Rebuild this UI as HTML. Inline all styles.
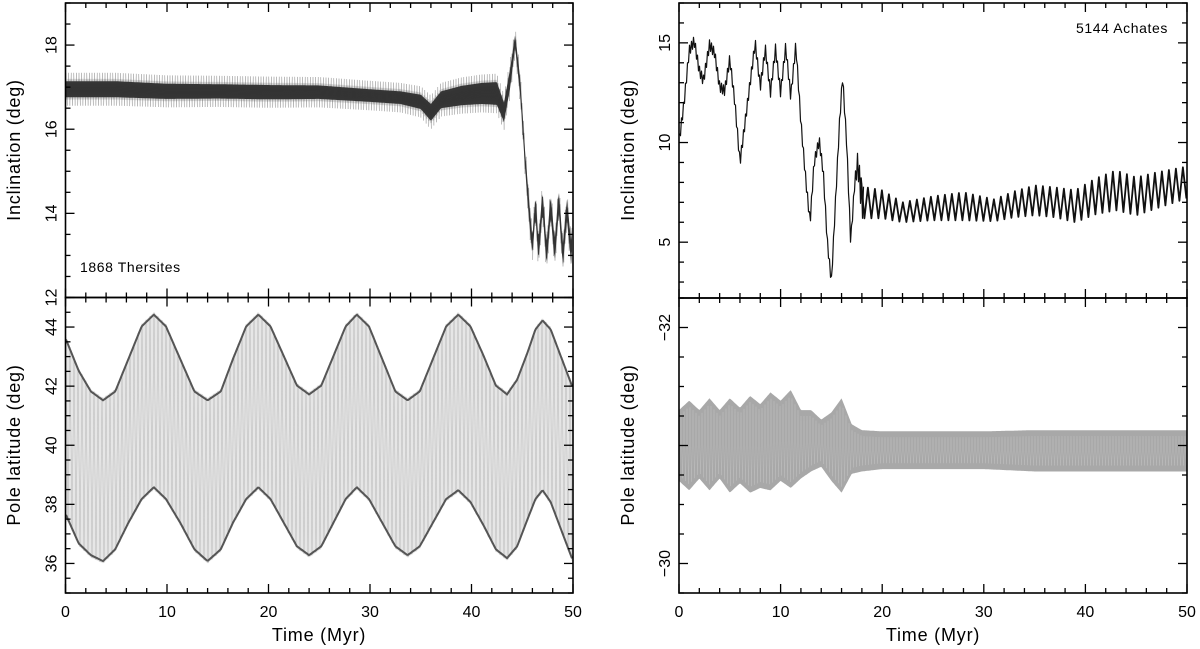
<!DOCTYPE html>
<html><head><meta charset="utf-8"><style>
html,body{margin:0;padding:0;background:#fff}
svg{display:block;font-family:"Liberation Sans",sans-serif}
</style></head><body>
<svg id="chart" width="1200" height="649" viewBox="0 0 1200 649" xmlns="http://www.w3.org/2000/svg"></svg>
<script>
// ---- data ----
const ltTimes=[0,5,10,15,20,25,30,33,35,36,37,39,41,42.5,43.2,43.8,44.3,44.8,45.3,45.7,46.0,46.3,46.6,47.0,47.4,47.8,48.2,48.6,49.0,49.4,49.8,50];
const ltCenter=[16.95,16.95,16.9,16.9,16.88,16.88,16.8,16.75,16.65,16.4,16.7,16.8,16.85,16.85,16.4,17.2,18.1,17.0,15.2,14.0,13.2,14.2,13.1,14.3,13.0,14.2,13.1,14.3,13.0,14.1,13.1,13.6];
const ltHalf=[0.24,0.24,0.23,0.22,0.22,0.21,0.2,0.2,0.22,0.25,0.25,0.28,0.3,0.32,0.28,0.28,0.2,0.25,0.25,0.3,0.25,0.3,0.3,0.3,0.3,0.3,0.3,0.3,0.3,0.3,0.3,0.3];
const lbTimes=[0,1.3,2.5,3.7,4.9,6.2,7.5,8.7,9.9,11.3,12.7,14,15.3,16.5,17.8,19,20.2,21.5,22.8,24,25.2,26.4,27.6,28.7,29.9,31.2,32.5,33.7,34.9,36.2,37.5,38.7,39.9,41.2,42.4,43.5,44.5,45.5,46.3,47,47.8,48.9,50];
const lbUpper=[43.7,42.6,41.9,41.6,41.9,43.0,44.1,44.5,44.1,43.0,41.9,41.6,41.9,43.0,44.1,44.5,44.1,43.1,42.1,41.8,42.1,43.1,44.1,44.5,44.1,43.0,41.9,41.6,41.9,43.0,44.1,44.5,44.1,43.1,42.1,41.8,42.3,43.2,44.0,44.3,44.0,43.0,42.0];
const lbLower=[37.6,36.6,36.2,36.0,36.4,37.3,38.1,38.5,38.1,37.3,36.4,36.0,36.4,37.3,38.1,38.5,38.1,37.3,36.5,36.2,36.5,37.3,38.1,38.5,38.1,37.3,36.5,36.2,36.5,37.3,38.1,38.4,38.0,37.2,36.4,36.1,36.5,37.4,38.1,38.4,38.0,37.0,36.0];
const rtTimes=[0,0.5,1,1.5,2,2.4,3,3.5,4,4.5,5,5.5,6,6.5,7,7.5,8,8.5,9,9.5,10,10.5,11,11.5,12,12.5,12.9,13.3,13.8,14.2,14.6,15,15.4,15.8,16.1,16.5,16.9,17.3,17.6,18,20,22,25,28,31,33,35,37,39,41,43,45,47,50];
const rtCenter=[10,12,14.6,15.1,13.6,13.1,14.9,14.5,12.8,12.6,14.2,12,9,11,13,15,12.8,14.7,12.5,14.7,12.5,14.8,12.3,14.9,11,8,6,9,10.1,8.5,5,3,7,11,13.3,10,5,8,9,7.0,6.9,6.5,6.7,6.8,6.6,6.9,7.1,7.0,6.8,7.3,7.6,7.3,7.6,8.0];
const rtHalf=[0.25,0.25,0.25,0.25,0.25,0.25,0.25,0.25,0.25,0.25,0.25,0.25,0.25,0.25,0.25,0.25,0.25,0.25,0.25,0.25,0.25,0.25,0.25,0.25,0.25,0.25,0.25,0.25,0.25,0.25,0.25,0.2,0.25,0.25,0.25,0.25,0.25,0.25,0.6,0.8,0.7,0.5,0.6,0.7,0.55,0.65,0.75,0.75,0.8,0.9,1.0,0.95,0.9,0.8];
const rbTimes=[0,1,2,3,4,5,6,7,8,9,10,11,12,13,14,15,16,17,18,20,25,30,35,40,45,50];
const rbTop=[-31.3,-31.38,-31.3,-31.4,-31.3,-31.4,-31.32,-31.42,-31.35,-31.45,-31.38,-31.47,-31.3,-31.3,-31.22,-31.28,-31.4,-31.18,-31.13,-31.12,-31.12,-31.12,-31.13,-31.13,-31.13,-31.13];
const rbBottom=[-30.7,-30.62,-30.72,-30.62,-30.72,-30.6,-30.68,-30.6,-30.64,-30.62,-30.7,-30.64,-30.72,-30.78,-30.82,-30.7,-30.6,-30.76,-30.78,-30.8,-30.8,-30.8,-30.78,-30.78,-30.78,-30.78];
const xTickLabels=["0","10","20","30","40","50"];
const ltTickLabels=["12","14","16","18"];
const lbTickLabels=["36","38","40","42","44"];
const rtTickLabels=["5","10","15"];
const rbTickLabels=["−32","−30"];

const svg=document.getElementById('chart');
const NS='http://www.w3.org/2000/svg';
function mk(tag,attrs,parent){const e=document.createElementNS(NS,tag);for(const k in attrs)e.setAttribute(k,attrs[k]);(parent||svg).appendChild(e);return e;}
function interp(ts,vs,t){if(t<=ts[0])return vs[0];for(let i=1;i<ts.length;i++){if(t<=ts[i]){const f=(t-ts[i-1])/(ts[i]-ts[i-1]);return vs[i-1]+f*(vs[i]-vs[i-1]);}}return vs[vs.length-1];}
function panel(x0,x1,y0,y1,ymin,ymax,inv){
  return {x0,x1,y0,y1,sx:t=>x0+(t/50)*(x1-x0),sy:v=>inv?(y0+(v-ymin)/(ymax-ymin)*(y1-y0)):(y1-(v-ymin)/(ymax-ymin)*(y1-y0)),ivx:px=>(px-x0)/(x1-x0)*50};
}
const LT=panel(65.5,573,3,297.5,12,19,false);
const LB=panel(65.5,573,297.5,593,35,45,false);
const RT=panel(679,1187,3,298,2.2,17,false);
const RB=panel(679,1187,298,593,-32.25,-29.75,true);

function zigzag(P,lo,hi,step,name,stroke,width,op,tA,tB){
  let d='',k=0;const a0=P.sx(tA===undefined?0:tA),b0=P.sx(tB===undefined?50:tB);
  for(let px=Math.max(P.x0+0.5,a0);px<=Math.min(P.x1-0.5,b0);px+=step){const t=P.ivx(px);const v=(k++%2)?lo(t):hi(t);d+=(d?'L':'M')+px.toFixed(1)+' '+P.sy(v).toFixed(1);}
  const p=mk('path',{d,fill:'none',stroke,'stroke-width':width,'stroke-opacity':op,'stroke-linejoin':'round'});
  
  
  return p;
}
function band(P,lo,hi,name,fill){
  let up='',dn=[];
  for(let px=P.x0+0.5;px<=P.x1-0.5;px+=1){const t=P.ivx(px);up+=(up?'L':'M')+px.toFixed(1)+' '+P.sy(hi(t)).toFixed(1);dn.push('L'+px.toFixed(1)+' '+P.sy(lo(t)).toFixed(1));}
  const p=mk('path',{d:up+dn.reverse().join('')+'Z',fill,stroke:'none'});
  
  
  return p;
}
function edge(P,f,name,stroke,w){
  let d='';for(let px=P.x0+0.5;px<=P.x1-0.5;px+=1){d+=(d?'L':'M')+px.toFixed(1)+' '+P.sy(f(P.ivx(px))).toFixed(1);}
  const p=mk('path',{d,fill:'none',stroke,'stroke-width':w});
  
  
}

// left top: inclination of Thersites
const ltLo=t=>interp(ltTimes,ltCenter,t)-interp(ltTimes,ltHalf,t);
const ltHi=t=>interp(ltTimes,ltCenter,t)+interp(ltTimes,ltHalf,t);
zigzag(LT,t=>ltLo(t)-0.15,t=>ltHi(t)+0.15,1.3,'thersites-inclination-scatter','#555',0.5,0.45);
band(LT,t=>ltLo(t)+0.05,t=>ltHi(t)-0.05,'thersites-inclination-core','#3c3c3c');
zigzag(LT,ltLo,ltHi,1,'thersites-inclination-series','#222',0.6,0.5);
// left bottom: pole latitude
const lbLo=t=>interp(lbTimes,lbLower,t), lbHi=t=>interp(lbTimes,lbUpper,t);
band(LB,lbLo,lbHi,'thersites-pole-band','#e6e6e6');
zigzag(LB,lbLo,lbHi,2,'thersites-pole-series','#999',0.5,0.6);
edge(LB,t=>lbHi(t)-0.08,'thersites-pole-upper-edge','#555',2);
edge(LB,t=>lbLo(t)+0.08,'thersites-pole-lower-edge','#555',2);
// right top: inclination of Achates
const rtLo=t=>interp(rtTimes,rtCenter,t)-interp(rtTimes,rtHalf,t);
const rtHi=t=>interp(rtTimes,rtCenter,t)+interp(rtTimes,rtHalf,t);
zigzag(RT,rtLo,rtHi,1,'achates-inclination-early','#111',1.2,1,0,18.2);
zigzag(RT,rtLo,rtHi,3.5,'achates-inclination-series','#111',1.8,1,17.9,50);
// right bottom: pole latitude
const rbLo=t=>interp(rbTimes,rbTop,t), rbHi=t=>interp(rbTimes,rbBottom,t);
band(RB,rbLo,rbHi,'achates-pole-band','#a8a8a8');
zigzag(RB,t=>rbLo(t)+0.05,t=>rbHi(t)-0.05,1.5,'achates-pole-series','#c4c4c4',0.5,0.6);

// axes
function frame(P,name){const r=mk('rect',{x:P.x0,y:P.y0,width:P.x1-P.x0,height:P.y1-P.y0,fill:'none',stroke:'#000','stroke-width':1.6});}
function xticks(P,labels,name){
  for(let t=0;t<=50;t+=2){const x=P.sx(t);const L=(t%10===0)?9:5;
    mk('line',{x1:x,x2:x,y1:P.y1,y2:P.y1-L,stroke:'#000','stroke-width':1.3});
    mk('line',{x1:x,x2:x,y1:P.y0,y2:P.y0+L,stroke:'#000','stroke-width':1.3});}
  if(labels){labels.forEach((s,i)=>{const e=mk('text',{x:P.sx(i*10),y:P.y1+24,'font-size':16,'text-anchor':'middle'});e.textContent=s;});}
}
function yticks(P,from,to,minor,major,labelVals,labels,name){
  for(let v=from;v<=to+1e-9;v+=minor){const y=P.sy(v);const isM=Math.abs(v/major-Math.round(v/major))<1e-6;const L=isM?9:5;
    mk('line',{x1:P.x0,x2:P.x0+L,y1:y,y2:y,stroke:'#000','stroke-width':1.3});
    mk('line',{x1:P.x1,x2:P.x1-L,y1:y,y2:y,stroke:'#000','stroke-width':1.3});}
  labelVals.forEach((v,i)=>{const y=P.sy(v);const e=mk('text',{x:0,y:0,'font-size':16,'text-anchor':'middle',transform:`translate(${P.x0-9},${y}) rotate(-90)`});e.textContent=labels[i];});
}
frame(LT,'thersites-inclination-frame');frame(LB,'thersites-pole-frame');frame(RT,'achates-inclination-frame');frame(RB,'achates-pole-frame');
xticks(LT,null);xticks(LB,xTickLabels,'x-tick-label-left');xticks(RT,null);xticks(RB,xTickLabels,'x-tick-label-right');
yticks(LT,12,19,0.5,2,[12,14,16,18],ltTickLabels,'y-tick-label');
yticks(LB,35,45,0.5,2,[36,38,40,42,44],lbTickLabels,'y-tick-label');
yticks(RT,3,17,1,5,[5,10,15],rtTickLabels,'y-tick-label');
yticks(RB,-32.25,-29.75,0.25,1,[-32,-30],rbTickLabels,'y-tick-label');

function text(x,y,s,size,name,rot,anchor,ls){const e=mk('text',{x:0,y:0,'font-size':size,'text-anchor':anchor||'middle','letter-spacing':ls||0,transform:`translate(${x},${y})`+(rot?' rotate(-90)':'')});e.textContent=s;}
text(20,150,'Inclination (deg)',18,'y-axis-title-left-top',true,'middle',0.8);
text(20,445,'Pole latitude (deg)',18,'y-axis-title-left-bottom',true,'middle',0.8);
text(634,150,'Inclination (deg)',18,'y-axis-title-right-top',true,'middle',0.8);
text(634,445,'Pole latitude (deg)',18,'y-axis-title-right-bottom',true,'middle',0.8);
text(319,641,'Time (Myr)',18,'x-axis-title-left',false,'middle',0.8);
text(933,641,'Time (Myr)',18,'x-axis-title-right',false,'middle',0.8);
text(80,272,'1868 Thersites',14,'annotation-thersites',false,'start',0.6);
text(1168,33,'5144 Achates',14,'annotation-achates',false,'end',0.6);
</script>
</body></html>
